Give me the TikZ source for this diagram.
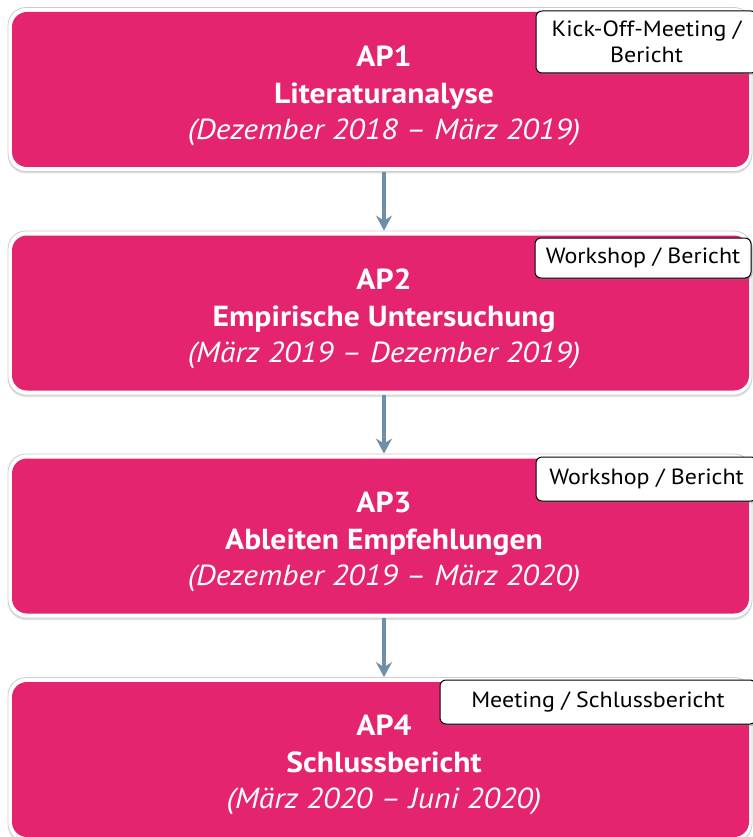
\documentclass[tikz,border=0pt]{standalone}
\usepackage{fontspec}
\setmainfont[FakeStretch=1.09]{PT Sans}
\usetikzlibrary{arrows.meta,shadows}
\definecolor{appink}{HTML}{E4246E}
\definecolor{flowgray}{HTML}{6F8EA7}
\tikzset{
  apframe/.style={draw=black!20, line width=0.8pt, fill=white, rounded corners=18pt,
    minimum width=744pt, minimum height=164pt, inner sep=0pt,
    drop shadow={shadow xshift=0pt, shadow yshift=-2pt, opacity=0.25}},
  apbox/.style={fill=appink, rounded corners=15pt, minimum width=737pt,
    minimum height=155pt, inner sep=0pt},
  aptext/.style={text=white, align=center, font=\fontsize{29}{36.5}\selectfont},
  callout/.style={draw=black, line width=1pt, fill=white, rounded corners=6pt,
    inner sep=0pt, align=center, font=\fontsize{22}{26}\selectfont,
    drop shadow={shadow xshift=1.5pt, shadow yshift=-2pt, opacity=0.35}},
  flow/.style={draw=flowgray, line width=3.5pt,
    -{Stealth[length=15pt, width=16pt, inset=5pt]}}
}
\begin{document}
\begin{tikzpicture}[x=1pt, y=-1pt]
  \useasboundingbox (0,0) rectangle (752,837);

  % work packages
  \foreach \n/\cy in {1/89.5, 2/313, 3/536, 4/759.5} {
    \node[apframe] (f\n) at (380,\cy) {};
    \node[apbox] (b\n) at (380.5,\cy) {};
  }
  \node[aptext] (t1) at (384,96) {\textbf{AP1}\\\textbf{Literaturanalyse}\\\textit{(Dezember 2018 – März 2019)}};
  \node[aptext] (t2) at (384,319) {\textbf{AP2}\\\textbf{Empirische Untersuchung}\\\textit{(März 2019 – Dezember 2019)}};
  \node[aptext] (t3) at (384,542) {\textbf{AP3}\\\textbf{Ableiten Empfehlungen}\\\textit{(Dezember 2019 – März 2020)}};
  \node[aptext] (t4) at (384,765) {\textbf{AP4}\\\textbf{Schlussbericht}\\\textit{(März 2020 – Juni 2020)}};

  % milestones
  \node[callout, minimum width=221pt, minimum height=62pt] (c1) at (646.5,42) {Kick-Off-Meeting /\\Bericht};
  \node[callout, minimum width=216pt, minimum height=40pt] (c2) at (643,258) {Workshop / Bericht};
  \node[callout, minimum width=221pt, minimum height=44pt] (c3) at (646.5,479) {Workshop / Bericht};
  \node[callout, minimum width=316pt, minimum height=44pt] (c4) at (598,702) {Meeting / Schlussbericht};

  % sequence
  \draw[flow] ([xshift=4pt]f1.south) -- ([xshift=4pt]f2.north);
  \draw[flow] ([xshift=4pt]f2.south) -- ([xshift=4pt]f3.north);
  \draw[flow] ([xshift=4pt]f3.south) -- ([xshift=4pt]f4.north);
\end{tikzpicture}
\end{document}
